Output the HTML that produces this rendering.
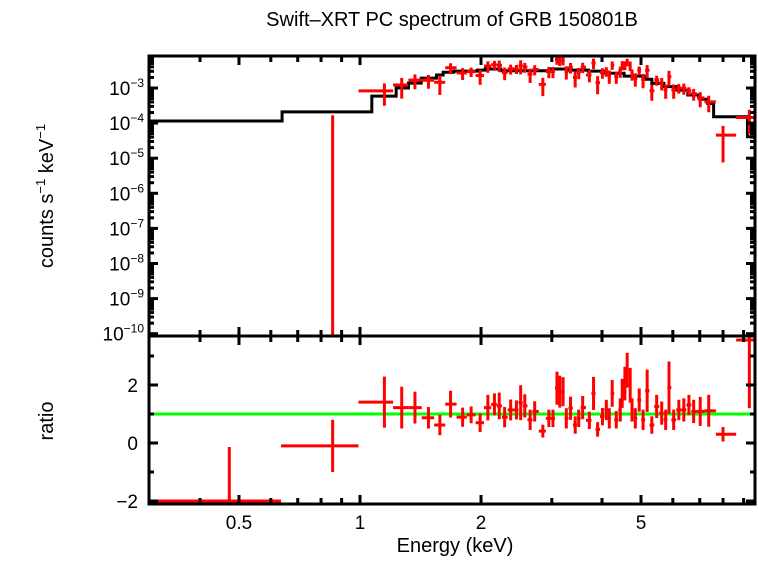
<!DOCTYPE html>
<html><head><meta charset="utf-8"><style>
body{margin:0;background:#fff}
svg text{font-family:"Liberation Sans",sans-serif;fill:#000}
</style></head><body>
<svg id="c" width="758" height="556" viewBox="0 0 758 556" xmlns="http://www.w3.org/2000/svg">
<rect width="758" height="556" fill="#fff"/>
<text x="452" y="26" font-size="20" text-anchor="middle">Swift–XRT PC spectrum of GRB 150801B</text>
<text x="455" y="552" font-size="20" text-anchor="middle">Energy (keV)</text>
<text transform="translate(53,196) rotate(-90)" font-size="20" text-anchor="middle">counts s<tspan font-size="13" dy="-8">−1</tspan><tspan dy="8"> keV</tspan><tspan font-size="13" dy="-8">−1</tspan></text>
<text transform="translate(53,421) rotate(-90)" font-size="20" text-anchor="middle">ratio</text>
<g id="topPanel"></g>
<g id="botPanel"></g>
<g id="axesGroup"></g>
</svg>
<script>
// data
const energy=[0.473,0.855,1.15,1.27,1.37,1.48,1.58,1.68,1.80,1.89,1.99,2.08,2.16,2.22,2.29,2.37,2.45,2.51,2.57,2.65,2.72,2.85,2.95,3.02,3.09,3.14,3.20,3.26,3.34,3.43,3.50,3.58,3.72,3.81,3.90,4.01,4.10,4.17,4.24,4.34,4.44,4.49,4.56,4.62,4.70,4.75,4.84,4.95,5.06,5.18,5.32,5.47,5.63,5.76,5.87,6.03,6.21,6.39,6.58,6.76,7.02,7.37,8.0,9.3];
const ratio=[-2.0,-0.1,1.41,1.22,1.22,0.87,0.62,1.34,0.89,0.97,0.70,1.22,1.33,1.28,0.89,1.14,1.14,1.39,1.28,0.80,1.09,0.41,0.85,0.85,1.89,1.77,1.77,0.85,1.20,0.62,0.85,1.22,0.78,1.71,0.47,0.91,1.14,0.85,1.71,0.80,1.14,1.71,2.05,2.51,1.99,1.14,0.85,1.48,0.80,1.80,0.62,1.26,1.03,0.80,1.91,0.80,1.14,1.14,1.31,1.09,1.09,1.11,0.30,3.55];
const ratioErr=[1.86,0.9,0.88,0.72,0.55,0.37,0.35,0.46,0.33,0.29,0.32,0.44,0.38,0.46,0.35,0.36,0.33,0.6,0.4,0.35,0.35,0.22,0.3,0.3,0.57,0.55,0.5,0.35,0.4,0.3,0.3,0.4,0.3,0.57,0.25,0.3,0.35,0.35,0.46,0.3,0.4,0.5,0.58,0.6,0.6,0.4,0.35,0.4,0.35,0.73,0.3,0.4,0.4,0.35,0.9,0.35,0.35,0.4,0.35,0.4,0.5,0.55,0.25,2.35];
const modelEdges=[0.3,0.64,1.07,1.23,1.32,1.42,1.55,1.61,1.71,1.96,2.05,2.19,2.24,2.95,3.30,3.70,4.05,4.54,5.09,5.32,5.70,6.11,6.54,7.0,7.33,7.58,9.2,9.6];
const modelLog=[-3.94,-3.68,-3.23,-3.0,-2.86,-2.72,-2.63,-2.55,-2.52,-2.49,-2.46,-2.46,-2.51,-2.46,-2.49,-2.52,-2.58,-2.66,-2.75,-2.87,-2.96,-3.06,-3.2,-3.32,-3.44,-3.82,-4.39];
const yTickLabels=["-3","-4","-5","-6","-7","-8","-9","-10"];
const ratioTicks=["2","0","−2"];
const xTickLabels=["0.5","1","2","5"];

const L=149,R=755,T1=56,B1=336,B2=504;
const X=e=>360+402*Math.log10(e);
const Y1=lg=>88-(lg+3)*35.1;
const Y2=r=>443-29*r;
const NS='http://www.w3.org/2000/svg';
function mk(p,tag,a){const el=document.createElementNS(NS,tag);for(const k in a)el.setAttribute(k,a[k]);p.appendChild(el);return el;}
function modelAt(e){for(let i=0;i<modelLog.length;i++){if(e<modelEdges[i+1])return modelLog[i];}return modelLog[modelLog.length-1];}
const gTop=document.getElementById('topPanel'),gBot=document.getElementById('botPanel'),gAx=document.getElementById('axesGroup');
const defs=mk(document.getElementById('c'),'defs',{});
const cp1=mk(defs,'clipPath',{id:'cp1'});mk(cp1,'rect',{x:L,y:T1,width:R-L,height:B1-T1});
const cp2=mk(defs,'clipPath',{id:'cp2'});mk(cp2,'rect',{x:L,y:B1,width:R-L,height:B2-B1});
gTop.setAttribute('clip-path','url(#cp1)');gBot.setAttribute('clip-path','url(#cp2)');

let d='';
for(let i=0;i<modelLog.length;i++){const x0=X(modelEdges[i]),x1=X(modelEdges[i+1]),y=Y1(modelLog[i]);d+=(i?'L':'M')+x0+','+y+'L'+x1+','+y;}
const mp=mk(gTop,'path',{d:d,fill:'none',stroke:'#000','stroke-width':3});


const gl=mk(gBot,'line',{x1:L,x2:R,y1:Y2(1),y2:Y2(1),stroke:'#00ff00','stroke-width':3});



for(let i=0;i<energy.length;i++){
  const lo=i==0?0.3:Math.sqrt(energy[i-1]*energy[i]);
  const hi=i==energy.length-1?9.6:Math.sqrt(energy[i]*energy[i+1]);
  const xl=X(lo),xh=X(hi),xc=X(energy[i]);
  const m=modelAt(energy[i]);
  const g1=mk(gTop,'g',{stroke:'#ff0000','stroke-width':3});
  
  
  const r=ratio[i],up=r+ratioErr[i],dn=r-ratioErr[i];
  if(up>0){
    const yu=Y1(m+Math.log10(up));
    const yd=dn>0?Y1(m+Math.log10(dn)):B1+5;
    mk(g1,'line',{x1:xc,x2:xc,y1:yu,y2:yd});
    if(r>0){const yc=Y1(m+Math.log10(r));mk(g1,'line',{x1:xl,x2:xh,y1:yc,y2:yc});}
  }
  const g2=mk(gBot,'g',{stroke:'#ff0000','stroke-width':3});
  
  
  mk(g2,'line',{x1:xc,x2:xc,y1:Y2(up),y2:Y2(dn)});
  mk(g2,'line',{x1:xl,x2:xh,y1:Y2(r),y2:Y2(r)});
}

mk(gAx,'rect',{x:L,y:T1,width:R-L,height:B2-T1,fill:'none',stroke:'#000','stroke-width':3});
mk(gAx,'line',{x1:L,x2:R,y1:B1,y2:B1,stroke:'#000','stroke-width':3});
const xt=[0.3,0.4,0.5,0.6,0.7,0.8,0.9,1,2,3,4,5,6,7,8,9];
xt.forEach(e=>{const x=X(e);if(x<L+2||x>R-2)return;const len=(e==1||e==0.5||e==2||e==5)?9:6;
 [[T1,1],[B1,1],[B1,-1],[B2,-1]].forEach(([y,s])=>mk(gAx,'line',{x1:x,x2:x,y1:y,y2:y+s*len,stroke:'#000','stroke-width':3}));});
xTickLabels.forEach(t=>{const tx=mk(gAx,'text',{x:X(parseFloat(t)),y:529,'font-size':19,'text-anchor':'middle'});tx.textContent=t;
 
 });
for(let dec=-10;dec<=-2;dec++){for(let k=1;k<10;k++){const lg=dec+Math.log10(k);const y=Y1(lg);if(y<T1+2||y>B1-2)continue;const len=k==1?9:5;
 mk(gAx,'line',{x1:L,x2:L+len,y1:y,y2:y,stroke:'#000','stroke-width':3});mk(gAx,'line',{x1:R,x2:R-len,y1:y,y2:y,stroke:'#000','stroke-width':3});}}
yTickLabels.forEach(t=>{const y=Y1(parseFloat(t));const tx=mk(gAx,'text',{x:144,y:y+7,'font-size':19,'text-anchor':'end'});
 
 
 mk(tx,'tspan',{}).textContent='10';const sp=mk(tx,'tspan',{'font-size':12,dy:-8});sp.textContent=t.replace('-','−');});
[-1,1,3,-2,0,2].forEach(r=>{const y=Y2(r);if(y<B1+2||y>B2-1)return;const len=(r%2==0)?9:5;
 mk(gAx,'line',{x1:L,x2:L+len,y1:y,y2:y,stroke:'#000','stroke-width':3});mk(gAx,'line',{x1:R,x2:R-len,y1:y,y2:y,stroke:'#000','stroke-width':3});});
ratioTicks.forEach(t=>{const v=parseFloat(t.replace('−','-'));const tx=mk(gAx,'text',{x:138,y:Y2(v)+7,'font-size':19,'text-anchor':'end'});tx.textContent=t;
 
 });
</script>
</body></html>
